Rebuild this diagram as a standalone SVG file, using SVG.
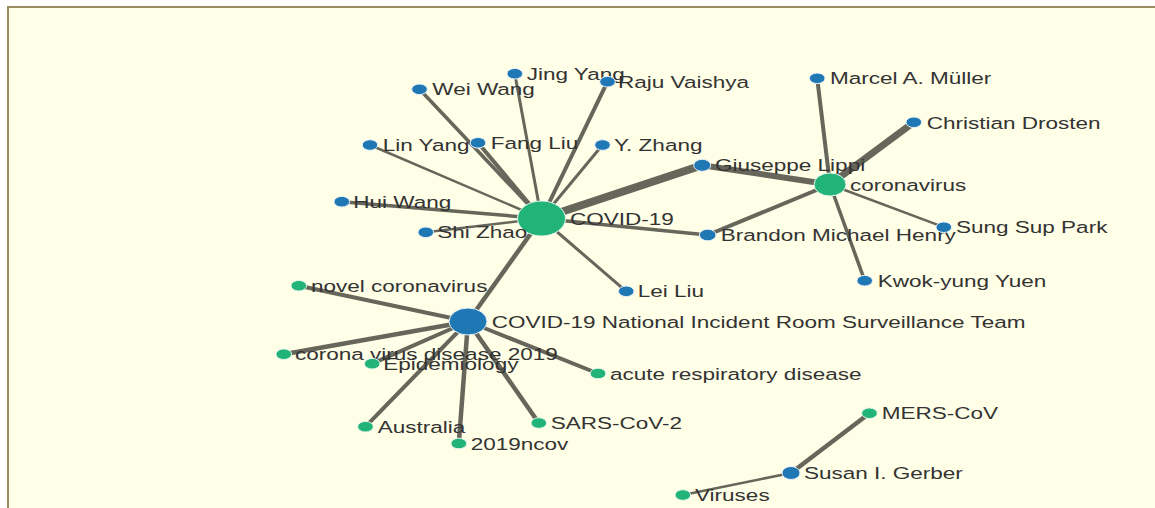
<svg xmlns="http://www.w3.org/2000/svg" width="1155" height="508" viewBox="0 0 1155 508">
<style>
.bg{fill:#fffee6;stroke:#9c8a60;stroke-width:2}
.e{stroke:#66665b;stroke-linecap:round;fill:none}
.b{fill:#1f77b4;stroke:#e8f1f8;stroke-width:1}
.g{fill:#22b378;stroke:#e6f6ee;stroke-width:1}
text{font-family:"Liberation Sans",Arial,sans-serif;font-size:17px;fill:#333}
</style>
<rect class="bg" x="8" y="7" width="1160" height="510"/>
<g id="connectors">
<line class="e" x1="541.5" y1="218.5" x2="702.2" y2="165.3" stroke-width="8"/>
<line class="e" x1="702.2" y1="165.3" x2="830" y2="184.5" stroke-width="6"/>
<line class="e" x1="830" y1="184.5" x2="913.8" y2="122.3" stroke-width="7"/>
<line class="e" x1="830" y1="184.5" x2="817.2" y2="78.3" stroke-width="4"/>
<line class="e" x1="830" y1="184.5" x2="707.7" y2="235" stroke-width="4"/>
<line class="e" x1="830" y1="184.5" x2="943.8" y2="227.2" stroke-width="2.5"/>
<line class="e" x1="830" y1="184.5" x2="864.7" y2="280.7" stroke-width="3.5"/>
<line class="e" x1="541.5" y1="218.5" x2="707.7" y2="235" stroke-width="3.5"/>
<line class="e" x1="541.5" y1="218.5" x2="607.5" y2="81.7" stroke-width="4"/>
<line class="e" x1="541.5" y1="218.5" x2="514.8" y2="73.7" stroke-width="3"/>
<line class="e" x1="541.5" y1="218.5" x2="419.5" y2="89.3" stroke-width="3.5"/>
<line class="e" x1="541.5" y1="218.5" x2="478" y2="142.8" stroke-width="4"/>
<line class="e" x1="541.5" y1="218.5" x2="602.5" y2="145" stroke-width="3"/>
<line class="e" x1="541.5" y1="218.5" x2="370" y2="145" stroke-width="2.5"/>
<line class="e" x1="541.5" y1="218.5" x2="341.8" y2="201.7" stroke-width="3.5"/>
<line class="e" x1="541.5" y1="218.5" x2="425.8" y2="232.3" stroke-width="2.5"/>
<line class="e" x1="541.5" y1="218.5" x2="626.2" y2="291.3" stroke-width="3"/>
<line class="e" x1="541.5" y1="218.5" x2="468" y2="321.5" stroke-width="4.5"/>
<line class="e" x1="468" y1="321.5" x2="298.8" y2="285.7" stroke-width="4"/>
<line class="e" x1="468" y1="321.5" x2="283.8" y2="354.2" stroke-width="4.5"/>
<line class="e" x1="468" y1="321.5" x2="372.2" y2="363.7" stroke-width="4"/>
<line class="e" x1="468" y1="321.5" x2="598" y2="373.5" stroke-width="4"/>
<line class="e" x1="468" y1="321.5" x2="365.5" y2="426.7" stroke-width="4"/>
<line class="e" x1="468" y1="321.5" x2="458.8" y2="443.5" stroke-width="4.5"/>
<line class="e" x1="468" y1="321.5" x2="538.8" y2="423" stroke-width="4.5"/>
<line class="e" x1="791" y1="473" x2="869.5" y2="413.2" stroke-width="4.5"/>
<line class="e" x1="791" y1="473" x2="682.8" y2="495" stroke-width="2.5"/>
</g>
<g id="n-covid19"><ellipse class="g" cx="541.5" cy="218.5" rx="24" ry="17.5"/><text transform="matrix(1.325 0 0 1 570 224.5)">COVID-19</text></g>
<g id="n-national"><ellipse class="b" cx="468" cy="321.5" rx="19" ry="13.5"/><text transform="matrix(1.325 0 0 1 491.7 327.5)">COVID-19 National Incident Room Surveillance Team</text></g>
<g id="n-coronavirus"><ellipse class="g" cx="830" cy="184.5" rx="16" ry="11.5"/><text transform="matrix(1.325 0 0 1 850 190.5)">coronavirus</text></g>
<g id="n-susan"><ellipse class="b" cx="791" cy="473" rx="9" ry="6.5"/><text transform="matrix(1.325 0 0 1 804 479)">Susan I. Gerber</text></g>
<g id="n-jingyang"><ellipse class="b" cx="514.8" cy="73.7" rx="7.8" ry="5.3"/><text transform="matrix(1.325 0 0 1 526.7 79.7)">Jing Yang</text></g>
<g id="n-weiwang"><ellipse class="b" cx="419.5" cy="89.3" rx="7.8" ry="5.3"/><text transform="matrix(1.325 0 0 1 432.3 95.3)">Wei Wang</text></g>
<g id="n-raju"><ellipse class="b" cx="607.5" cy="81.7" rx="7.8" ry="5.3"/><text transform="matrix(1.325 0 0 1 618 87.7)">Raju Vaishya</text></g>
<g id="n-linyang"><ellipse class="b" cx="370" cy="145" rx="7.8" ry="5.3"/><text transform="matrix(1.325 0 0 1 382.7 151)">Lin Yang</text></g>
<g id="n-fangliu"><ellipse class="b" cx="478" cy="142.8" rx="7.8" ry="5.3"/><text transform="matrix(1.325 0 0 1 490.7 148.8)">Fang Liu</text></g>
<g id="n-yzhang"><ellipse class="b" cx="602.5" cy="145" rx="7.8" ry="5.3"/><text transform="matrix(1.325 0 0 1 614 151)">Y. Zhang</text></g>
<g id="n-lippi"><ellipse class="b" cx="702.2" cy="165.3" rx="8.5" ry="6"/><text transform="matrix(1.325 0 0 1 715 171.3)">Giuseppe Lippi</text></g>
<g id="n-huiwang"><ellipse class="b" cx="341.8" cy="201.7" rx="7.8" ry="5.3"/><text transform="matrix(1.325 0 0 1 353.3 207.7)">Hui Wang</text></g>
<g id="n-shizhao"><ellipse class="b" cx="425.8" cy="232.3" rx="7.8" ry="5.3"/><text transform="matrix(1.325 0 0 1 437.3 238.3)">Shi Zhao</text></g>
<g id="n-brandon"><ellipse class="b" cx="707.7" cy="235" rx="8.3" ry="5.8"/><text transform="matrix(1.325 0 0 1 720.7 241)">Brandon Michael Henry</text></g>
<g id="n-leiliu"><ellipse class="b" cx="626.2" cy="291.3" rx="7.8" ry="5.3"/><text transform="matrix(1.325 0 0 1 637.7 297.3)">Lei Liu</text></g>
<g id="n-marcel"><ellipse class="b" cx="817.2" cy="78.3" rx="7.8" ry="5.3"/><text transform="matrix(1.325 0 0 1 830 84.3)">Marcel A. Müller</text></g>
<g id="n-drosten"><ellipse class="b" cx="913.8" cy="122.3" rx="7.8" ry="5.3"/><text transform="matrix(1.325 0 0 1 926.7 128.8)">Christian Drosten</text></g>
<g id="n-sungsup"><ellipse class="b" cx="943.8" cy="227.2" rx="7.8" ry="5.3"/><text transform="matrix(1.325 0 0 1 956 233.2)">Sung Sup Park</text></g>
<g id="n-kwok"><ellipse class="b" cx="864.7" cy="280.7" rx="7.8" ry="5.3"/><text transform="matrix(1.325 0 0 1 877.7 286.7)">Kwok-yung Yuen</text></g>
<g id="n-novel"><ellipse class="g" cx="298.8" cy="285.7" rx="7.8" ry="5.3"/><text transform="matrix(1.325 0 0 1 311 291.7)">novel coronavirus</text></g>
<g id="n-cvd2019"><ellipse class="g" cx="283.8" cy="354.2" rx="7.8" ry="5.3"/><text transform="matrix(1.325 0 0 1 295 360.2)">corona virus disease 2019</text></g>
<g id="n-epidemiology"><ellipse class="g" cx="372.2" cy="363.7" rx="7.8" ry="5.3"/><text transform="matrix(1.325 0 0 1 383.3 369.7)">Epidemiology</text></g>
<g id="n-acute"><ellipse class="g" cx="598" cy="373.5" rx="7.8" ry="5.3"/><text transform="matrix(1.325 0 0 1 610 379.5)">acute respiratory disease</text></g>
<g id="n-australia"><ellipse class="g" cx="365.5" cy="426.7" rx="7.8" ry="5.3"/><text transform="matrix(1.325 0 0 1 377.7 432.7)">Australia</text></g>
<g id="n-2019ncov"><ellipse class="g" cx="458.8" cy="443.5" rx="7.8" ry="5.3"/><text transform="matrix(1.325 0 0 1 470.7 449.5)">2019ncov</text></g>
<g id="n-sarscov2"><ellipse class="g" cx="538.8" cy="423" rx="7.8" ry="5.3"/><text transform="matrix(1.325 0 0 1 550.7 429)">SARS-CoV-2</text></g>
<g id="n-merscov"><ellipse class="g" cx="869.5" cy="413.2" rx="7.8" ry="5.3"/><text transform="matrix(1.325 0 0 1 881.7 419.2)">MERS-CoV</text></g>
<g id="n-viruses"><ellipse class="g" cx="682.8" cy="495" rx="7.8" ry="5.3"/><text transform="matrix(1.325 0 0 1 695 501)">Viruses</text></g>
</svg>
